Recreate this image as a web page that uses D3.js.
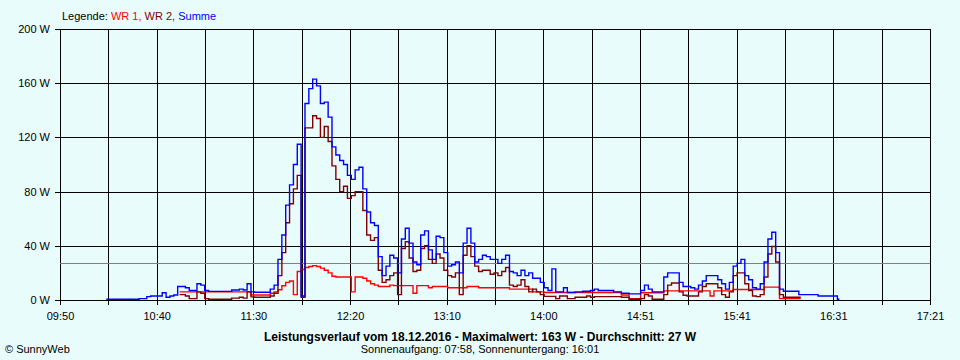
<!DOCTYPE html>
<html><head><meta charset="utf-8">
<script src="https://cdn.jsdelivr.net/npm/d3@7"></script>
<style>
html,body{margin:0;padding:0;background:#E8FCFC;}
svg{display:block;font-family:"Liberation Sans",Arial,sans-serif;}
</style></head><body>
<svg id="chart" width="960" height="360"></svg>
<script>
// ---- data ----
const times = [
"10:14","10:16","10:18",
"10:20","10:22","10:24","10:26","10:28","10:30","10:32","10:34","10:36","10:38",
"10:40","10:42","10:44","10:46","10:48","10:50","10:52","10:54","10:56","10:58",
"11:00","11:02","11:04","11:06","11:08","11:10","11:12","11:14","11:16","11:18",
"11:20","11:22","11:24","11:26","11:28","11:30","11:32","11:34","11:36","11:38",
"11:40","11:42","11:44","11:46","11:48","11:50","11:52","11:54","11:56","11:58",
"12:00","12:02","12:04","12:06","12:08","12:10","12:12","12:14","12:16","12:18",
"12:20","12:22","12:24","12:26","12:28","12:30","12:32","12:34","12:36","12:38",
"12:40","12:42","12:44","12:46","12:48","12:50","12:52","12:54","12:56","12:58",
"13:00","13:02","13:04","13:06","13:08","13:10","13:12","13:14","13:16","13:18",
"13:20","13:22","13:24","13:26","13:28","13:30","13:32","13:34","13:36","13:38",
"13:40","13:42","13:44","13:46","13:48","13:50","13:52","13:54","13:56","13:58",
"14:00","14:02","14:04","14:06","14:08","14:10","14:12","14:14","14:16","14:18",
"14:20","14:22","14:24","14:26","14:28","14:30","14:32","14:34","14:36","14:38",
"14:40","14:42","14:44","14:46","14:48","14:50","14:52","14:54","14:56","14:58",
"15:00","15:02","15:04","15:06","15:08","15:10","15:12","15:14","15:16","15:18",
"15:20","15:22","15:24","15:26","15:28","15:30","15:32","15:34","15:36","15:38",
"15:40","15:42","15:44","15:46","15:48","15:50","15:52","15:54","15:56","15:58",
"16:00","16:02","16:04","16:06","16:08","16:10","16:12","16:14","16:16","16:18",
"16:20","16:22","16:24","16:26","16:28","16:30","16:32","16:34"
];
const summe = [
0.5,0.5,0.5,0.5,0.5,0.5,0.5,0.5,0.5,1,
1,2.5,3,3,3,5.4,2,3,3.7,10,
10,9,7,7,12,11,7,6.4,6.4,6.4,
6.4,6.4,6.4,7.4,7.4,8,7.4,12,6,5.7,
5.7,5.7,5.7,8,11,30,48,70,85,100,
115,3,145,156,163,158,145,146,135,113,
107,103,100,92,89,96,98,82,65,57,
55,32,18,25,33,31,20,45,53,42,
28,26,48,51,37,30,47,46,35,25,
26,28,20,42,53,42,28,30,33,32,
30,30,27,30,33,21,20,18,22,18,
20,16,16,13,9,7,23,6,6,9,
5.5,5.5,6,6,6.5,6.5,7,8,7,7,
7,7,6,6,5,5,4.5,4.5,4.5,7,
11,8,6,6,6,17,20,20,20,13,
10,10,9,8,11,14,18,18,18,15,
12,8,13,25,27,30,18,15,9,8,
12,28,45,50,35,8,6.5,6.5,6.5,6.5,
4,4,4,4,4,3,3,3,3,3,
0.5
];
const wr1 = [
null,null,null,null,null,null,null,null,null,null,
null,null,null,null,null,null,null,null,null,6,
6,6,6,6,6,6,6,6,6,6,
6,6,6,6,6,6,6,6,3.7,3.7,
3.7,3.7,3.7,5,6,7.6,10.5,13,14,4,
21,22.5,24,24.7,25.4,24.7,23.5,22,20,17.5,
17,17,17,17,6,17,17,16,14,12,
11,10,10,10,11,10.6,10.6,10.6,10.6,10.6,
5,10.6,10.6,10.6,9,10,10,10,10,9,
9,9,9,9,10,10,10,9,9,9,
9,9,9,9,9,8,8,8,8,8,
8,6,6,6,5.5,5.5,5.5,5.5,5.5,5.5,
5.5,5.5,5.5,5.5,5.5,5.5,5.5,5.5,5.5,5.5,
5.5,5.5,5.5,5.5,3.7,3.7,1,1,1,5.4,
5.4,5.4,5.4,5.4,5.4,6.7,6.7,6.7,6.7,6.7,
6.7,6.7,6.7,6.7,6.7,6.7,6.7,3,6.7,6.7,
6.7,6.7,6.7,7.7,7.7,7.7,7.7,7.7,7.7,7.7,
7.7,9.5,9.5,9.5,9.5,1,1,1,1,1,
1,null,null,null,null,null,null,null,null,null,
null
];
const wr2 = [
null,null,null,null,null,null,null,null,null,null,
null,null,null,null,null,null,null,null,null,4,
4,3,1,1,6,5,1,0.5,0.5,0.5,
0.5,0.5,0.5,1.4,1.4,2,1.4,6,2.3,2,
2,2,2,3,5,18,35,57,71,82,
92,2,127,127,136,134,120,128,117,99,
89,80,84,75,77,80,80,66,48,44,
46,22,13,15,18,20,4,38,43,31,
21,22,38,40,30,27,34,31,22,18,
17,20,4,33,40,32,25,21,22,22,
19,20,18,21,24,11,10,11,15,10,
6,8,6,4,2.7,2.7,2.7,1,3,3,
1,1,2,2,2,3,2,2.5,2.5,2.5,
2.5,2.5,2.5,2.5,2,2,0.5,0.5,0.5,1,
4,3,0.5,0.5,0.5,4,11,12.5,12.5,6,
3.5,3,3,3,6,10,12,12,12,9,
4,2,6,18,20,20,12,7,3,2.5,
4,17,34,39.5,28,4,2,2,2,2,
2,null,null,null,null,null,null,null,null,null,
null
];
const yTicks = [0, 40, 80, 120, 160, 200];
const xTickLabels = ["09:50","10:40","11:30","12:20","13:10","14:00","14:51","15:41","16:31","17:21"];
const durchschnitt = 27;
const legendParts = ["Legende: ", "WR 1, ", "WR 2, ", "Summe"];
const titleText = "Leistungsverlauf vom 18.12.2016 - Maximalwert: 163 W - Durchschnitt: 27 W";
const subText = "Sonnenaufgang: 07:58, Sonnenuntergang: 16:01";
const copyText = "\u00A9 SunnyWeb";

// ---- layout ----
const L = 60, R = 930, T = 29, B = 300;
const svg = d3.select("#chart");
const toMin = s => +s.slice(0,2)*60 + +s.slice(3);
const x0 = toMin(xTickLabels[0]), x1 = toMin(xTickLabels[xTickLabels.length-1]);
const x = d3.scaleLinear().domain([x0, x1]).range([L, R]);
const y = d3.scaleLinear().domain([0, 200]).range([B, T]);
const nGrid = (xTickLabels.length - 1) * 2;
const gridVals = d3.range(nGrid + 1).map(k => x0 + k * (x1 - x0) / nGrid);

svg.append("rect").attr("width",960).attr("height",360).attr("fill","#E8FCFC");

// gridlines
const g = svg.append("g").attr("shape-rendering","crispEdges");
g.selectAll("line.v").data(gridVals).join("line")
  .attr("x1", d => Math.round(x(d)) + 0.5).attr("x2", d => Math.round(x(d)) + 0.5)
  .attr("y1", T).attr("y2", B).attr("stroke","#000");
g.selectAll("line.h").data(yTicks).join("line")
  .attr("x1", L).attr("x2", R)
  .attr("y1", d => Math.round(y(d)) + 0.5).attr("y2", d => Math.round(y(d)) + 0.5).attr("stroke","#000");

// average line
svg.append("line").attr("shape-rendering","crispEdges")
  .attr("x1", L).attr("x2", R)
  .attr("y1", Math.round(y(durchschnitt)) + 0.5).attr("y2", Math.round(y(durchschnitt)) + 0.5)
  .attr("stroke","#808080");

// axes
const xAxis = d3.axisBottom(x).tickValues(gridVals).tickSize(5).tickPadding(7)
  .tickFormat((d, i) => i % 2 === 0 ? xTickLabels[i / 2] : "");
const yAxis = d3.axisLeft(y).tickValues(yTicks).tickSize(5).tickPadding(5)
  .tickFormat(d => d + " W");
const gx = svg.append("g").attr("transform", `translate(0,${B})`).call(xAxis);
const gy = svg.append("g").attr("transform", `translate(${L},0)`).call(yAxis);
[gx, gy].forEach(a => {
  a.select(".domain").remove();
  a.selectAll(".tick line").attr("stroke","#000").attr("shape-rendering","crispEdges");
  a.selectAll("text").attr("fill","#000").attr("font-size","11px")
   .attr("font-family","'Liberation Sans',Arial,sans-serif");
});

// series lines
const series = [
  {vals: wr1, color: "#ff0000"},
  {vals: wr2, color: "#800000"},
  {vals: summe, color: "#0000ff"}
];
const line = d3.line()
  .defined(d => d.v != null)
  .x(d => x(toMin(d.t))).y(d => y(d.v))
  .curve(d3.curveStep);
series.forEach(s => {
  const data = times.map((t, i) => ({t, v: s.vals[i]}));
  svg.append("path").datum(data).attr("d", line)
    .attr("fill","none").attr("stroke", s.color).attr("stroke-width", 1.4)
    .attr("stroke-linejoin","miter");
});

// legend
const legColors = ["#000000","#ff0000","#800000","#0000ff"];
const leg = svg.append("text").attr("x", 62).attr("y", 20).attr("font-size","11px").attr("xml:space","preserve");
legendParts.forEach((p, i) => leg.append("tspan").attr("fill", legColors[i]).text(p));

// title & footer
svg.append("text").attr("x", 480).attr("y", 341).attr("text-anchor","middle")
  .attr("font-size","12px").attr("font-weight","bold").attr("fill","#000").text(titleText);
svg.append("text").attr("x", 480).attr("y", 353).attr("text-anchor","middle")
  .attr("font-size","11px").attr("fill","#000").text(subText);
svg.append("text").attr("x", 5).attr("y", 353)
  .attr("font-size","11px").attr("fill","#000").text(copyText);
</script>
</body></html>
